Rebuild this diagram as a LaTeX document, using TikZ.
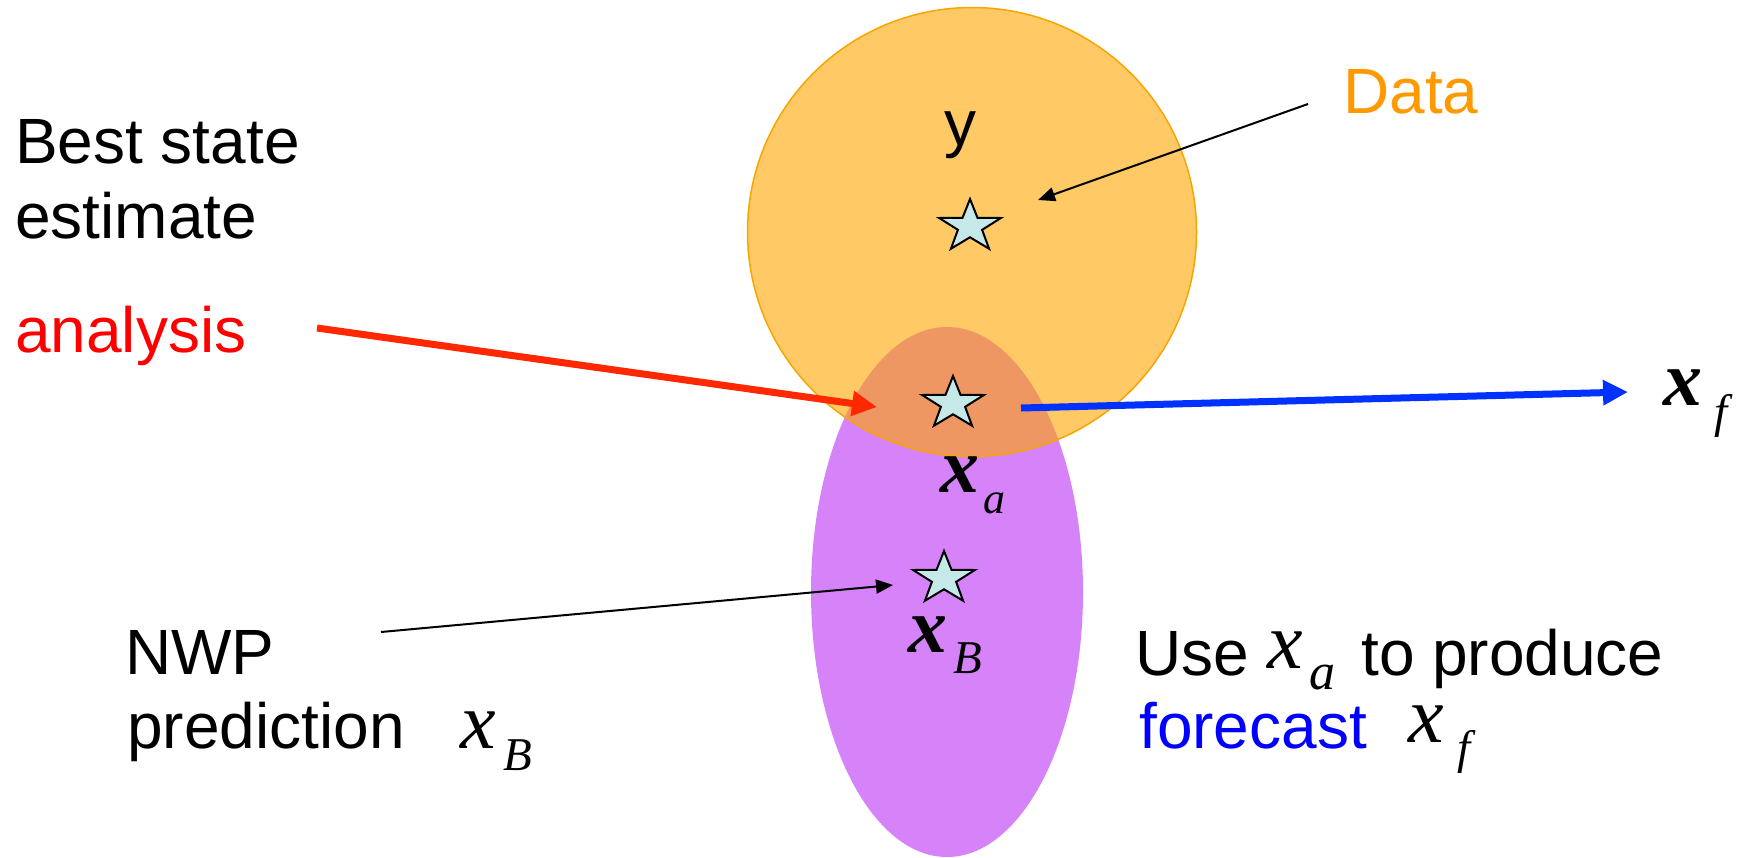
\documentclass[tikz,border=0pt]{standalone}
\usepackage{fontspec}
\usepackage{graphicx}
\setmainfont{Liberation Sans}
\newfontfamily\tms{Liberation Serif}
\usetikzlibrary{arrows.meta,shapes.geometric}
\definecolor{obsfill}{RGB}{255,165,0}
\definecolor{obsedge}{RGB}{248,165,0}
\definecolor{purp}{RGB}{214,131,249}
\definecolor{starfill}{RGB}{197,232,232}
\definecolor{dataorange}{RGB}{255,153,0}
\definecolor{redarrow}{RGB}{255,40,0}
\definecolor{bluearrow}{RGB}{0,50,255}
\definecolor{txtred}{RGB}{255,0,0}
\definecolor{txtblue}{RGB}{0,0,255}
\newcommand{\txtfont}{\fontsize{64}{76}\selectfont}
% regular and heavy italic x, subscript
\newcommand{\xreg}{{\fontsize{80}{80}\selectfont\tms\itshape x}}
\newcommand{\xbold}{{\fontsize{78}{78}\selectfont\tms\bfseries\itshape x}}
% #1 = x glyph, #2 = gap, #3 = drop, #4 = sub size, #5 = sub
\newcommand{\xlab}[5]{#1\hspace{#2}\raisebox{-#3}{\fontsize{#4}{#4}\selectfont\tms\itshape #5}}
\begin{document}
\begin{tikzpicture}[x=1pt,y=-1pt,
  lbl/.style={inner sep=0pt, anchor=base west, font=\txtfont},
  mlbl/.style={inner sep=0pt, anchor=base west},
  starnode/.style={star, star points=5, star point ratio=2.55, minimum size=55pt, inner sep=0pt,
    draw=black, line width=2pt, fill=starfill, xscale=1.18, transform shape},
  thinarrow/.style={-{Triangle[length=17pt,width=14pt]}, line width=2pt, black},
  thickarrow/.style={-{Triangle[length=25pt,width=24pt]}, line width=7pt}
]
\useasboundingbox (0,0) rectangle (1744,857);
% regions
\node[ellipse, fill=purp, minimum width=272pt, minimum height=530pt, inner sep=0pt] (pred) at (947,592) {};
\node[circle, draw=obsedge, fill=obsfill, fill opacity=0.6, line width=1.5pt, minimum size=449pt, inner sep=0pt] (obs) at (972,232) {};
% stars
\node[starnode] (sy) at (970,226.5) {};
\node[starnode] (sa) at (953,403.5) {};
\node[starnode] (sb) at (944,578.5) {};
% texts
\node[lbl] (ylbl) at (944,145) {y};
\node[lbl, text=dataorange] (datalbl) at (1343,113) {Data};
\node[lbl] (best) at (15,163) {Best state};
\node[lbl] (estim) at (15,238) {estimate};
\node[lbl, text=txtred] (anal) at (15,352) {analysis};
\node[lbl] (nwp) at (125,674) {NWP};
\node[lbl] (predl) at (127,748) {prediction};
\node[lbl] (use) at (1135,675) {Use};
\node[lbl] (toprod) at (1361,675) {to produce};
\node[lbl, text=txtblue] (fcst) at (1139,748) {forecast};
% math labels
\node[mlbl] (xa) at (940,492) {\xlab{\xbold}{4pt}{21pt}{44}{a}};
\node[mlbl] (xb) at (908,652) {\xlab{\xbold}{6pt}{21pt}{47}{B}};
\node[mlbl] (xf) at (1663,405) {\xlab{\xbold}{12pt}{22pt}{47}{f}};
\node[mlbl] (xbl) at (460,748) {\xlab{\xreg}{8pt}{22pt}{47}{B}};
\node[mlbl] (xal) at (1267,668) {\xlab{\xreg}{7pt}{21pt}{52}{a}};
\node[mlbl] (xfl) at (1408,742) {\xlab{\xreg}{14pt}{21pt}{47}{f}};
% connectors
\coordinate (dataS) at (1308,104);
\coordinate (dataT) at (1038,200);
\draw[thinarrow] (dataS) -- (dataT);
\coordinate (nwpS) at (381,632);
\coordinate (nwpT) at (893,585);
\draw[thinarrow] (nwpS) -- (nwpT);
\coordinate (redS) at (317,328);
\coordinate (redT) at (877,407);
\draw[thickarrow, redarrow] (redS) -- (redT);
\coordinate (blueS) at (1021,408);
\coordinate (blueT) at (1628,392);
\draw[thickarrow, bluearrow] (blueS) -- (blueT);
\end{tikzpicture}
\end{document}
